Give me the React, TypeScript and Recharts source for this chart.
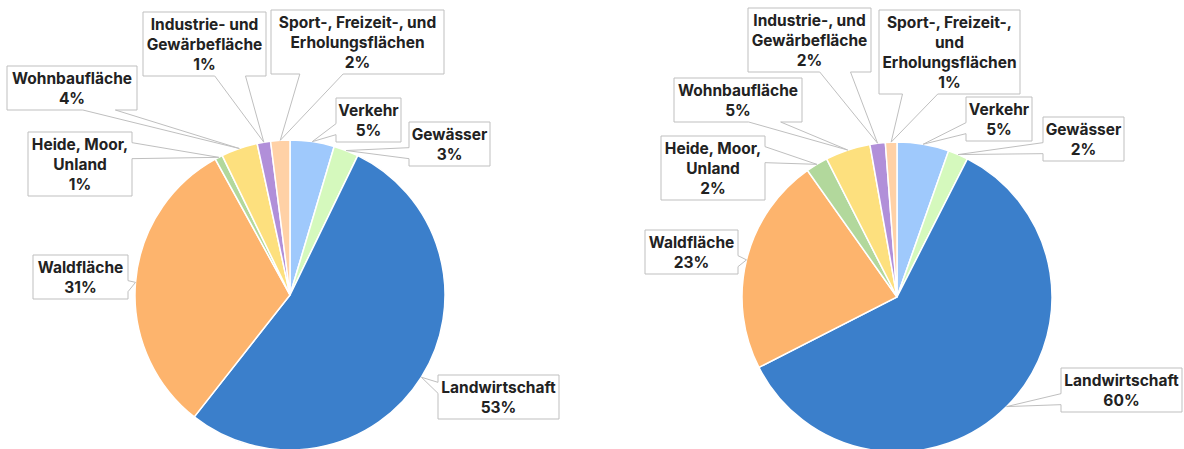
import { PieChart, Pie, Cell } from 'recharts';

// Flächennutzung – two snapshots, same categories, clockwise from 12 o'clock
const categories = [
  'Verkehr',
  'Gewässer',
  'Landwirtschaft',
  'Waldfläche',
  'Heide, Moor, Unland',
  'Wohnbaufläche',
  'Industrie- und Gewärbefläche',
  'Sport-, Freizeit-, und Erholungsflächen',
];

const leftValues = [4.6, 2.6, 53.4, 31.4, 0.8, 3.8, 1.4, 2.0];
const rightValues = [5.4, 2.1, 60.0, 22.7, 2.3, 4.7, 1.6, 1.2];

// label text as it is wrapped in each callout
const leftLabels = [
  'Verkehr',
  'Gewässer',
  'Landwirtschaft',
  'Waldfläche',
  'Heide, Moor,\nUnland',
  'Wohnbaufläche',
  'Industrie- und\nGewärbefläche',
  'Sport-, Freizeit-, und\nErholungsflächen',
];
const rightLabels = [
  'Verkehr',
  'Gewässer',
  'Landwirtschaft',
  'Waldfläche',
  'Heide, Moor,\nUnland',
  'Wohnbaufläche',
  'Industrie-, und\nGewärbefläche',
  'Sport-, Freizeit-,\nund\nErholungsflächen',
];

const COLORS = ['#9fc9fc', '#d5f9bd', '#3b7fcb', '#fdb46d', '#b2d89c', '#fde07e', '#b18fd9', '#ffd1a6'];

// callout box placement (top-left corner + width), per slice
const leftBoxes = [
  { x: 336, y: 98, w: 65 },
  { x: 409, y: 122, w: 81 },
  { x: 438, y: 375, w: 121 },
  { x: 33, y: 255, w: 95 },
  { x: 28, y: 132, w: 104 },
  { x: 7, y: 66, w: 130 },
  { x: 143, y: 12, w: 123 },
  { x: 271, y: 10, w: 173 },
];
const rightBoxes = [
  { x: 966, y: 97, w: 66 },
  { x: 1043, y: 117, w: 81 },
  { x: 1061, y: 368, w: 121 },
  { x: 645, y: 230, w: 93 },
  { x: 661, y: 136, w: 104 },
  { x: 674, y: 78, w: 128 },
  { x: 748, y: 8, w: 123 },
  { x: 879, y: 10, w: 141 },
];

const RAD = Math.PI / 180;
const LINE_H = 20;

function calloutPath(x: number, y: number, w: number, h: number, tx: number, ty: number) {
  const dxPos = tx - (x + w / 2);
  const dyPos = ty - (y + h / 2);
  const horiz = Math.abs(dxPos) / w > Math.abs(dyPos) / h;
  const xb1 = x + (w * (dxPos > 0 ? 7 : 2)) / 12;
  const xb2 = x + (w * (dxPos > 0 ? 10 : 5)) / 12;
  const yb1 = y + (h * (dyPos > 0 ? 7 : 2)) / 12;
  const yb2 = y + (h * (dyPos > 0 ? 10 : 5)) / 12;
  const pts: number[][] = [[x, y]];
  if (!horiz && dyPos < 0) pts.push([xb1, y], [tx, ty], [xb2, y]);
  pts.push([x + w, y]);
  if (horiz && dxPos > 0) pts.push([x + w, yb1], [tx, ty], [x + w, yb2]);
  pts.push([x + w, y + h]);
  if (!horiz && dyPos > 0) pts.push([xb2, y + h], [tx, ty], [xb1, y + h]);
  pts.push([x, y + h]);
  if (horiz && dxPos < 0) pts.push([x, yb2], [tx, ty], [x, yb1]);
  return 'M' + pts.map(p => `${p[0]},${p[1]}`).join('L') + 'Z';
}

function makeLabel(labels: string[], boxes: { x: number; y: number; w: number }[]) {
  // eslint-disable-next-line @typescript-eslint/no-explicit-any
  return (props: any) => {
    const { cx, cy, midAngle, outerRadius, percent, name } = props;
    const i = typeof props.index === 'number' ? props.index : categories.indexOf(name);
    const box = boxes[i];
    const lines = [...labels[i].split('\n'), `${Math.round(percent * 100)}%`];
    const h = lines.length * LINE_H + 4;
    const tx = cx + outerRadius * Math.cos(-midAngle * RAD);
    const ty = cy + outerRadius * Math.sin(-midAngle * RAD);
    return (
      <g>
        <path d={calloutPath(box.x, box.y, box.w, h, tx, ty)} fill="#fff" stroke="#bfbfbf" strokeWidth={1} />
        <text
          x={box.x + box.w / 2}
          y={box.y}
          textAnchor="middle"
          fontFamily="Inter, 'Noto Sans', sans-serif"
          fontWeight={700}
          fontSize={15.5}
          fill="#222"
        >
          {lines.map((l, k) => (
            <tspan key={k} x={box.x + box.w / 2} y={box.y + 18 + k * LINE_H}>{l}</tspan>
          ))}
        </text>
      </g>
    );
  };
}

const leftData = categories.map((name, i) => ({ name, value: leftValues[i] }));
const rightData = categories.map((name, i) => ({ name, value: rightValues[i] }));

export default function App() {
  return (
    <div style={{ position: 'absolute', left: 0, top: 0, width: 1184, height: 449, background: '#fff' }}>
      <PieChart width={1184} height={449} margin={{ top: 0, right: 0, bottom: 0, left: 0 }}>
        <Pie
          data={leftData}
          dataKey="value"
          nameKey="name"
          cx={290}
          cy={295}
          outerRadius={155}
          startAngle={90}
          endAngle={-270}
          stroke="#fff"
          strokeWidth={1.5}
          labelLine={false}
          label={makeLabel(leftLabels, leftBoxes)}
          isAnimationActive={false}
        >
          {leftData.map((d, i) => <Cell key={d.name} fill={COLORS[i]} />)}
        </Pie>
        <Pie
          data={rightData}
          dataKey="value"
          nameKey="name"
          cx={897}
          cy={297}
          outerRadius={155}
          startAngle={90}
          endAngle={-270}
          stroke="#fff"
          strokeWidth={1.5}
          labelLine={false}
          label={makeLabel(rightLabels, rightBoxes)}
          isAnimationActive={false}
        >
          {rightData.map((d, i) => <Cell key={d.name} fill={COLORS[i]} />)}
        </Pie>
      </PieChart>
    </div>
  );
}
